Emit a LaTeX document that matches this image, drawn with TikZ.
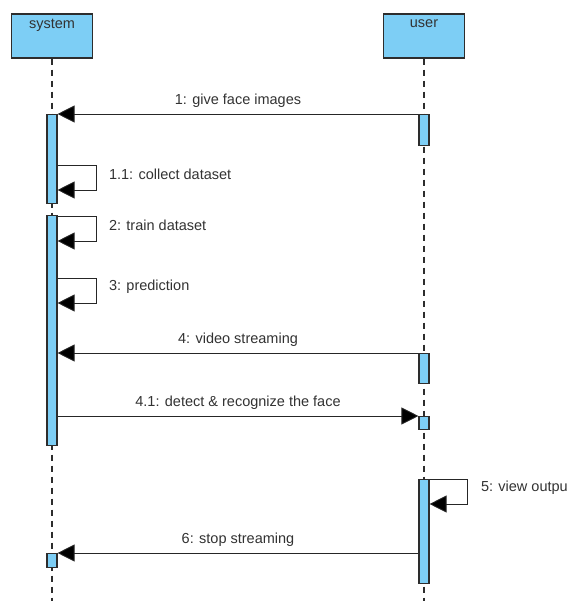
\documentclass[tikz,border=0pt]{standalone}
\usepackage{fontspec}
\setmainfont{Liberation Sans}
\usetikzlibrary{arrows.meta}
\definecolor{barblue}{RGB}{125,206,245}
\definecolor{edgegray}{RGB}{45,45,45}
\definecolor{txtgray}{RGB}{50,50,50}
\tikzset{
  head/.style={draw=edgegray, line width=1.2pt, fill=barblue, minimum width=81pt, minimum height=44pt, inner sep=0pt},
  bar/.style={draw=edgegray, line width=1.1pt, fill=barblue, minimum width=10pt, inner sep=0pt, anchor=north},
  lifeline/.style={draw=edgegray, line width=1.6pt, dash pattern=on 6pt off 5pt},
  msg/.style={draw=black!85, line width=0.9pt, -{Triangle[length=17pt,width=17pt,fill=black]}},
  lbl/.style={text=txtgray, font=\fontsize{14.5}{17}\selectfont, inner sep=2pt},
}
% activation bar: name, x, top, bottom
\newcommand{\actbar}[4]{\node[bar, minimum height=#4pt-#3pt] (#1) at (#2,#3) {};}

\begin{document}
\begin{tikzpicture}[x=1pt, y=-1pt]
  \useasboundingbox (0,0) rectangle (570,601);
  % heads and lifelines
  \node[head, label={[lbl, anchor=north, yshift=-4pt]north:system}] (sys) at (52,36) {};
  \node[head, label={[lbl, anchor=north, yshift=-4pt]north:user}] (usr) at (424,36) {};
  \coordinate (sysend) at (52,601);
  \coordinate (usrend) at (424,601);
  \draw[lifeline] (sys.south) -- (sysend);
  \draw[lifeline] (usr.south) -- (usrend);
  % activation bars
  \actbar{s1}{52}{114}{203}
  \actbar{s2}{52}{215}{445}
  \actbar{s3}{52}{553}{567}
  \actbar{u1}{424}{114}{145}
  \actbar{u2}{424}{353}{383}
  \actbar{u3}{424}{416}{429}
  \actbar{u4}{424}{479}{583}
  % messages
  \draw[msg] (u1.north west) -- (u1.north west -| s1.east) node[lbl, midway, above=4pt] {1: give face images};
  \draw[msg] ([yshift=-51pt]s1.north east) -- ++(39,0) node[lbl, anchor=west, xshift=10pt, yshift=-9pt] {1.1: collect dataset} -- ++(0,25) -- ++(-39,0);
  \draw[msg] ([yshift=-1pt]s2.north east) -- ++(39,0) node[lbl, anchor=west, xshift=10pt, yshift=-9pt] {2: train dataset} -- ++(0,25) -- ++(-39,0);
  \draw[msg] ([yshift=-63pt]s2.north east) -- ++(39,0) node[lbl, anchor=west, xshift=10pt, yshift=-9pt] {3: prediction} -- ++(0,25) -- ++(-39,0);
  \draw[msg] (u2.north west) -- (u2.north west -| s2.east) node[lbl, midway, above=4pt] {4: video streaming};
  \draw[msg] (u3.north west -| s2.east) -- (u3.north west) node[lbl, midway, above=4pt] {4.1: detect \& recognize the face};
  \draw[msg] (u4.north east) -- ++(38,0) node[lbl, anchor=west, xshift=11pt, yshift=-9pt] {5: view outpu} -- ++(0,25) -- ++(-38,0);
  \draw[msg] (u4.west |- s3.north) -- (s3.north east) node[lbl, midway, above=4pt] {6: stop streaming};
\end{tikzpicture}
\end{document}
